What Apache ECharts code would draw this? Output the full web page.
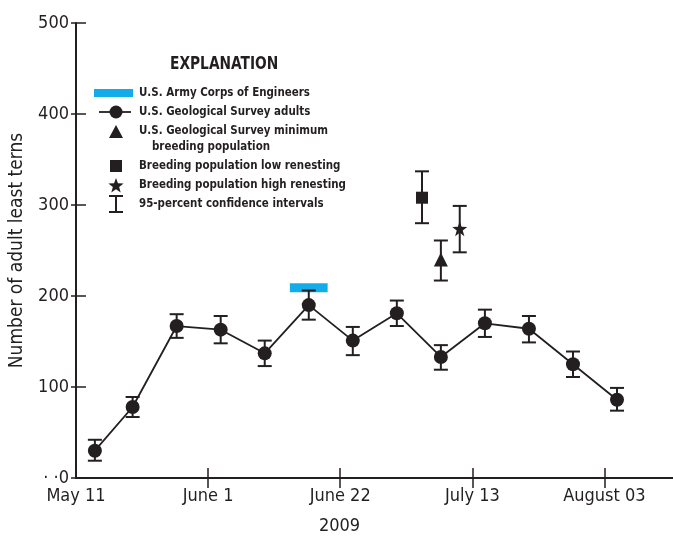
<!DOCTYPE html>
<html><head><meta charset="utf-8">
<script src="https://cdn.jsdelivr.net/npm/echarts@6/dist/echarts.min.js"></script>
<style>html,body{margin:0;padding:0;background:#fff}#c{width:673px;height:540px}</style>
</head><body><div id="c"></div><script>
// ---- data ----
const surveyDates = ['2009-05-14','2009-05-20','2009-05-27','2009-06-03','2009-06-10','2009-06-17','2009-06-24','2009-07-01','2009-07-08','2009-07-15','2009-07-22','2009-07-29','2009-08-05'];
const adults     = [30, 78, 167, 163, 137, 190, 151, 181, 133, 170, 164, 125, 86];
const adultsLow  = [19, 67, 154, 148, 123, 174, 135, 167, 119, 155, 149, 111, 74];
const adultsHigh = [42, 89, 180, 178, 151, 206, 166, 195, 146, 185, 178, 139, 99];
const minBreedDates = ['2009-07-08'];
const minBreed = [240], minBreedLow = [217], minBreedHigh = [261];
const lowRenestDates = ['2009-07-05'];
const lowRenest = [308], lowRenestLow = [280], lowRenestHigh = [337];
const highRenestDates = ['2009-07-11'];
const highRenest = [274], highRenestLow = [248], highRenestHigh = [299];
const usaceDates = ['2009-06-14','2009-06-20'];
const usaceValue = 209;
const xTickDays = [0, 21, 42, 63, 84];
const xTickLabels = ['May 11','June 1','June 22','July 13','August 03'];
const yTickValues = [0, 100, 200, 300, 400, 500];

const ORIGIN = Date.UTC(2009, 4, 11);
function day(s){ const p = s.split('-').map(Number); return (Date.UTC(p[0], p[1]-1, p[2]) - ORIGIN) / 86400000; }

const INK = '#231f20';
const FONT = "'DejaVu Sans Condensed','Liberation Sans Narrow','Arial Narrow',sans-serif";
const STAR = 'path://M0,-10 L2.35,-3.24 L9.51,-3.09 L3.8,1.24 L5.88,8.09 L0,4 L-5.88,8.09 L-3.8,1.24 L-9.51,-3.09 L-2.35,-3.24 Z';
function starPts(cx, cy, R, r){
  const pts = [];
  for (let k = 0; k < 10; k++){
    const a = -Math.PI/2 + k*Math.PI/5, rr = k % 2 ? r : R;
    pts.push([cx + rr*Math.cos(a), cy + rr*Math.sin(a)]);
  }
  return pts;
}

const errData = surveyDates.map((d,i)=>[day(d), adultsLow[i], adultsHigh[i]])
  .concat(minBreedDates.map((d,i)=>[day(d), minBreedLow[i], minBreedHigh[i]]))
  .concat(lowRenestDates.map((d,i)=>[day(d), lowRenestLow[i], lowRenestHigh[i]]))
  .concat(highRenestDates.map((d,i)=>[day(d), highRenestLow[i], highRenestHigh[i]]));

function errItem(params, api){
  const x = api.value(0);
  const a = api.coord([x, api.value(1)]), b = api.coord([x, api.value(2)]);
  const w = 7;
  const st = {stroke: INK, lineWidth: 2};
  return {type:'group', children:[
    {type:'line', shape:{x1:a[0], y1:a[1], x2:b[0], y2:b[1]}, style:st},
    {type:'line', shape:{x1:a[0]-w, y1:a[1], x2:a[0]+w, y2:a[1]}, style:st},
    {type:'line', shape:{x1:b[0]-w, y1:b[1], x2:b[0]+w, y2:b[1]}, style:st}
  ]};
}

const chart = echarts.init(document.getElementById('c'), null, {renderer:'canvas'});
const labelStyle = {color: INK, fontFamily: FONT, fontSize: 18};

const legendX = 116;
const legendTextX = 139;
const lt = (x, y, text, size, sx) => ({type:'text', x: x, y: y, scaleX: sx || 0.88, style:{text, fill: INK, font: 'bold ' + (size || 13) + 'px ' + FONT, verticalAlign: 'middle', align: 'left'}});

chart.setOption({
  animation: false,
  backgroundColor: '#fff',
  grid: {left: 76, top: 23, width: 597, height: 458, containLabel: false},
  xAxis: [{
    type: 'value', min: 0, max: 94.9, interval: 21, position: 'bottom',
    axisLine: {show: true, lineStyle: {color: INK, width: 2}},
    axisTick: {show: true, inside: true, length: 10, customValues: xTickDays, lineStyle: {color: INK, width: 1.5}},
    splitLine: {show: false},
    axisLabel: Object.assign({margin: 9, customValues: xTickDays, formatter: v => { const i = xTickDays.indexOf(Math.round(v)); return i >= 0 ? xTickLabels[i] : ''; }}, labelStyle),
    name: '2009', nameLocation: 'middle', nameGap: 39,
    nameTextStyle: {color: INK, fontFamily: FONT, fontSize: 18, padding: [0, 0, 0, -70]}
  }, {
    type: 'value', min: 0, max: 94.9, interval: 21, position: 'top',
    axisLine: {show: true, lineStyle: {color: INK, width: 2}},
    axisTick: {show: true, inside: true, length: 10, customValues: xTickDays.slice(1), lineStyle: {color: INK, width: 1.5}},
    axisLabel: {show: false}, splitLine: {show: false}
  }],
  yAxis: [{
    type: 'value', min: 0, max: 500, interval: 100, position: 'left',
    axisLine: {show: true, lineStyle: {color: INK, width: 2}},
    axisTick: {show: true, inside: true, length: 10, lineStyle: {color: INK, width: 1.5}},
    splitLine: {show: false},
    axisLabel: Object.assign({margin: 7, formatter: v => v === 0 ? '· ·0' : String(v)}, labelStyle),
    name: 'Number of adult least terns', nameLocation: 'middle', nameGap: 49,
    nameTextStyle: {color: INK, fontFamily: FONT, fontSize: 19}
  }, {
    type: 'value', min: 0, max: 500, interval: 100, position: 'right',
    axisLine: {show: true, lineStyle: {color: INK, width: 2, opacity: 0}},
    axisTick: {show: true, inside: true, length: 5, lineStyle: {color: INK, width: 1.5}},
    axisLabel: {show: false}, splitLine: {show: false}
  }],
  series: [
    {type: 'line', name: 'USACE', data: usaceDates.map(d => [day(d), usaceValue]), symbol: 'none',
     lineStyle: {color: '#12acea', width: 9, cap: 'butt'}, z: 1},
    {type: 'custom', name: 'CI', renderItem: errItem, data: errData, encode: {x: 0, y: [1, 2]}, z: 2},
    {type: 'line', name: 'USGS adults', data: surveyDates.map((d,i) => [day(d), adults[i]]),
     symbol: 'circle', symbolSize: 14, showAllSymbol: true,
     itemStyle: {color: INK, opacity: 1}, lineStyle: {color: INK, width: 1.8}, z: 3},
    {type: 'scatter', name: 'min breeding', data: minBreedDates.map((d,i) => [day(d), minBreed[i]]),
     symbol: 'triangle', symbolSize: 14, itemStyle: {color: INK, opacity: 1}, z: 4},
    {type: 'scatter', name: 'low renesting', data: lowRenestDates.map((d,i) => [day(d), lowRenest[i]]),
     symbol: 'rect', symbolSize: 12, itemStyle: {color: INK, opacity: 1}, z: 4},
    {type: 'scatter', name: 'high renesting', data: highRenestDates.map((d,i) => [day(d), highRenest[i]]),
     symbol: STAR, symbolSize: 15, itemStyle: {color: INK, opacity: 1}, z: 4}
  ],
  graphic: [
    lt(170, 65, 'EXPLANATION', 17, 0.9),
    {type: 'rect', shape: {x: 94, y: 89, width: 39, height: 8}, style: {fill: '#12acea'}},
    lt(legendTextX, 93, 'U.S. Army Corps of Engineers'),
    {type: 'line', shape: {x1: 99, y1: 112, x2: 131, y2: 112}, style: {stroke: INK, lineWidth: 1.8}},
    {type: 'circle', shape: {cx: legendX, cy: 112, r: 6.5}, style: {fill: INK}},
    lt(legendTextX, 112, 'U.S. Geological Survey adults'),
    {type: 'polygon', shape: {points: [[legendX, 125], [legendX - 7, 138], [legendX + 7, 138]]}, style: {fill: INK}},
    lt(legendTextX, 131, 'U.S. Geological Survey minimum'),
    lt(152, 147, 'breeding population'),
    {type: 'rect', shape: {x: legendX - 6, y: 160, width: 12, height: 12}, style: {fill: INK}},
    lt(legendTextX, 166, 'Breeding population low renesting'),
    {type: 'polygon', shape: {points: starPts(legendX, 186, 8, 3.3)}, style: {fill: INK}},
    lt(legendTextX, 185, 'Breeding population high renesting'),
    {type: 'line', shape: {x1: legendX, y1: 196, x2: legendX, y2: 212}, style: {stroke: INK, lineWidth: 2}},
    {type: 'line', shape: {x1: legendX - 7, y1: 196, x2: legendX + 7, y2: 196}, style: {stroke: INK, lineWidth: 2}},
    {type: 'line', shape: {x1: legendX - 7, y1: 212, x2: legendX + 7, y2: 212}, style: {stroke: INK, lineWidth: 2}},
    lt(legendTextX, 204, '95-percent confidence intervals')
  ]
});
</script></body></html>
